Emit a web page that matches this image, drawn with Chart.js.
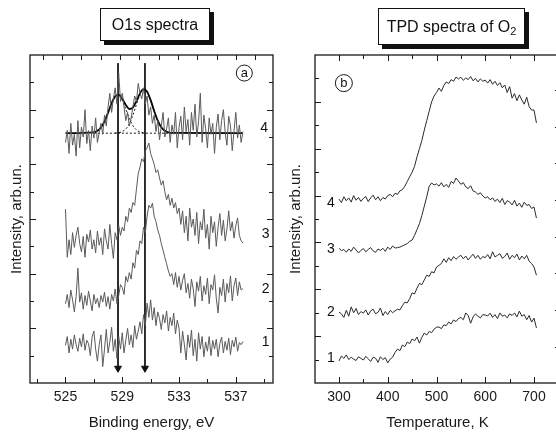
<!DOCTYPE html>
<html><head><meta charset="utf-8">
<script src="https://cdn.jsdelivr.net/npm/chart.js@4.4.1/dist/chart.umd.min.js"></script>
<style>
html,body{margin:0;padding:0;background:#fff;width:556px;height:432px;overflow:hidden;position:relative;font-family:'Liberation Sans',Arial,sans-serif}
canvas{position:absolute;top:0}
#cL{left:0}
#cR{left:278px}
.tbox{position:absolute;box-sizing:border-box;border:1px solid #111;box-shadow:4px 4px 0 #111;background:#fff;font-size:16px;color:#111;display:flex;align-items:center;justify-content:center;white-space:nowrap}
</style></head><body>
<canvas id="cL" width="278" height="432" style="width:278px;height:432px"></canvas>
<canvas id="cR" width="290" height="432" style="width:290px;height:432px"></canvas>
<div class="tbox" style="left:100px;top:8px;width:110px;height:33px">O1s spectra</div>
<div class="tbox" style="left:378px;top:8px;width:147px;height:37px">TPD spectra of O<sub style="font-size:11px;position:relative;top:4px;vertical-align:baseline">2</sub></div>
<script>
// ---------- Panel (a): O1s XPS spectra ----------
const xpsStart = 525, xpsStep = 0.125;
const xpsSpectrum1 = [0.69,0.85,0.55,0.80,0.62,0.88,0.70,0.58,0.82,0.66,0.90,0.60,0.78,0.72,0.50,0.84,0.95,0.62,0.40,0.70,0.88,
  0.30,0.62,0.98,0.55,0.75,1.02,0.58,0.80,
  0.45,0.85,0.62,0.92,0.55,0.78,1.00,0.70,
  0.88,0.65,1.05,0.80,0.95,1.12,0.90,
  1.25,1.05,1.46,1.20,1.52,
  1.15,1.38,1.05,1.30,1.18,0.98,1.25,1.10,1.32,0.95,1.20,1.05,1.28,0.90,1.15,1.00,
  0.55,0.95,0.70,0.42,0.88,0.65,0.97,0.50,0.80,0.40,0.92,0.62,0.85,0.48,0.75,0.58,
  0.85,0.50,0.78,0.62,0.80,0.48,0.72,0.84,0.55,0.76,0.60,0.82,0.52,0.78,0.66,0.84,0.58,0.74,0.70,0.76];
const xpsSpectrum2 = [1.45,1.62,1.38,1.70,1.52,1.30,1.58,2.10,1.48,1.65,1.35,1.60,1.42,1.68,1.50,1.32,1.62,1.45,1.55,1.38,1.60,
  1.48,1.66,1.40,1.58,1.35,1.62,1.50,1.72,1.45,1.60,1.80,1.75,
  1.62,1.95,1.85,2.02,1.90,2.20,2.10,2.43,2.35,2.60,2.55,2.85,2.75,3.05,3.25,3.20,
  3.29,3.05,2.95,2.80,2.70,2.55,2.43,2.30,2.18,2.05,1.95,2.00,
  1.80,2.02,1.75,1.95,1.70,1.88,2.00,1.65,1.82,1.55,1.90,1.72,1.40,1.85,1.68,1.95,1.50,1.78,1.62,1.92,
  1.45,1.80,1.70,1.98,1.55,1.28,1.75,1.60,1.90,1.48,1.82,1.65,1.96,1.50,1.78,1.92,1.60,1.85,1.70,1.73];
const xpsSpectrum3 = [3.18,2.30,2.62,2.35,2.75,2.48,2.70,2.85,2.55,2.40,2.68,2.30,2.72,2.58,2.80,2.45,2.62,2.38,2.78,2.52,2.66,
  2.35,2.82,2.60,2.45,2.90,2.55,2.28,2.75,2.62,2.88,2.70,2.85,
  2.78,3.05,2.95,3.20,3.12,3.30,3.25,3.55,3.83,3.95,4.10,4.05,4.25,4.30,4.39,4.20,
  4.10,4.00,3.85,3.90,3.75,3.62,3.70,3.50,3.35,3.45,3.25,3.38,3.20,3.30,3.10,3.20,
  2.90,3.15,2.75,3.05,2.60,3.20,2.85,3.00,2.70,3.12,2.55,2.95,2.80,3.18,2.65,2.90,2.45,3.05,
  2.75,2.95,2.50,2.85,3.10,2.70,2.98,2.60,2.82,3.15,2.78,2.95,2.65,2.88,3.02,2.70,2.60,2.56];
const xpsSpectrum4 = [4.40,4.62,4.20,4.75,4.35,4.55,4.15,4.80,4.30,4.68,4.50,5.00,4.38,4.62,4.25,4.70,4.48,4.85,4.40,4.58,4.75,
  4.55,4.90,4.70,5.05,5.30,4.95,5.20,5.40,5.10,5.67,5.15,5.30,
  5.05,4.80,4.95,4.70,4.85,5.05,5.25,5.15,5.48,5.30,5.20,5.40,5.10,5.25,4.90,5.05,
  4.75,4.90,4.60,4.80,4.45,4.70,4.95,4.50,4.65,4.85,4.40,4.72,4.55,4.95,4.30,4.68,
  4.88,4.45,5.05,4.60,4.82,4.35,4.95,4.62,5.10,4.50,4.78,5.30,4.40,4.90,4.65,4.30,4.85,4.55,
  4.75,4.20,4.68,4.92,4.45,4.80,5.00,4.58,4.35,4.88,4.70,4.25,4.62,4.95,4.48,4.72,4.40,4.60];
const xpsFitEnergy = [525,527,527.25,527.5,527.75,528,528.25,528.5,528.75,529,529.25,529.5,529.75,530,530.25,530.5,530.75,531,531.25,531.5,531.75,532,532.25,532.5,537.5];
const xpsFitTotal  = [4.57,4.585,4.613,4.675,4.786,4.945,5.119,5.244,5.275,5.200,5.086,5.012,5.038,5.156,5.298,5.374,5.329,5.174,4.975,4.799,4.678,4.613,4.585,4.574,4.57];
const xpsPeak1Energy = [527,527.25,527.5,527.75,528,528.25,528.5,528.75,529,529.25,529.5,529.75,530,530.25,530.5];
const xpsPeak1 = [4.585,4.613,4.675,4.786,4.945,5.118,5.242,5.266,5.172,5.009,4.839,4.709,4.630,4.592,4.577];
const xpsPeak2Energy = [528.5,528.75,529,529.25,529.5,529.75,530,530.25,530.5,530.75,531,531.25,531.5,531.75,532,532.25,532.5];
const xpsPeak2 = [4.572,4.579,4.598,4.647,4.743,4.899,5.096,5.276,5.367,5.327,5.174,4.975,4.799,4.678,4.613,4.585,4.574];
const xpsBaselineEnergy = [527, 532.5];
const xpsBaseline = [4.57, 4.57];
const xpsMarkerEnergy = [528.7, 530.6];
const xpsMarkerSpan = [5.85, 0.27];
const xpsTickLabels = [525, 529, 533, 537];

// ---------- Panel (b): TPD spectra of O2 ----------
const tpdStart = 300, tpdStep = 5;
const tpdCurve1 = [0.94,1.15,1.05,1.20,1.00,1.10,1.02,0.96,1.12,1.05,0.98,1.14,1.03,0.92,1.10,1.06,0.88,1.12,1.00,1.08,0.86,1.02,1.10,
  1.30,1.45,1.38,1.62,1.55,1.75,1.68,1.88,1.80,1.96,1.70,1.95,2.13,2.05,2.20,2.15,2.30,2.38,
  2.39,2.32,2.48,2.45,2.60,2.52,2.69,2.62,2.75,2.80,2.70,2.99,2.88,2.55,2.82,2.95,2.85,2.78,2.92,2.90,
  2.86,2.98,2.80,2.92,2.75,2.99,2.85,2.90,2.78,2.95,2.88,2.99,2.82,3.07,2.85,2.92,2.70,2.88,2.60,2.77,2.35];
const tpdCurve2 = [3.03,2.95,2.80,3.10,2.85,3.25,3.00,3.18,2.92,3.05,2.98,3.12,2.90,3.08,3.15,2.95,3.02,3.20,2.88,3.05,2.92,3.10,3.00,3.08,
  3.15,3.12,3.30,3.45,3.42,3.60,3.85,3.80,4.05,4.25,4.20,4.40,4.60,4.55,4.75,4.70,4.95,
  5.02,5.10,5.30,5.15,5.35,5.22,5.40,5.28,5.38,5.45,5.30,5.42,5.25,5.38,5.50,5.32,5.45,5.28,5.40,5.35,
  5.48,5.30,5.60,5.38,5.45,5.52,5.32,5.40,5.55,5.28,5.45,5.35,5.50,5.25,5.42,5.30,5.45,5.20,5.10,4.95,4.60];
const tpdCurve3 = [5.75,5.65,5.70,5.58,5.72,5.62,5.80,5.68,5.55,5.66,5.74,5.60,5.70,5.78,5.64,5.58,5.72,5.66,5.75,5.62,5.80,5.70,5.85,5.76,5.78,
  5.80,5.85,5.90,5.95,6.05,6.10,6.30,6.55,6.80,7.15,7.55,7.95,8.40,8.54,8.45,8.50,
  8.40,8.55,8.37,8.48,8.35,8.60,8.52,8.75,8.62,8.48,8.55,8.37,8.30,8.42,8.20,8.15,8.05,8.12,7.98,7.90,
  7.95,7.82,7.90,7.75,7.85,7.70,7.88,7.62,7.78,7.73,7.60,7.80,7.55,7.68,7.50,7.72,7.58,7.62,7.45,7.51,7.04];
const tpdCurve4 = [7.85,7.70,7.95,7.78,7.90,7.72,8.00,7.80,7.92,7.75,7.88,7.96,7.74,7.90,8.02,7.82,7.95,7.78,7.92,7.85,8.00,8.05,7.95,8.10,8.05,8.20,
  8.25,8.40,8.60,8.80,9.00,9.25,9.65,10.00,10.35,10.80,11.20,11.60,12.00,12.25,12.40,
  12.59,12.45,12.70,12.85,12.78,12.95,12.88,13.06,12.98,13.05,12.92,13.02,12.95,13.08,12.90,13.00,12.85,12.98,12.88,12.93,
  12.80,12.95,12.75,12.88,12.70,12.82,12.60,12.72,12.40,12.65,12.16,12.35,12.05,12.30,12.08,11.90,12.20,11.80,11.65,11.65,11.10];
const tpdTickLabels = [300, 400, 500, 600, 700];
const tpdRightAxisTicks = [1.55, 3.12, 4.69, 6.25, 7.81, 9.38, 10.94, 12.5];
const curveNames = ['1', '2', '3', '4'];

// ---------- helpers ----------
const FONT = "'Liberation Sans', Arial, sans-serif";
const xpsPts = arr => arr.map((y, i) => ({x: xpsStart + i * xpsStep, y}));
const tpdPts = arr => arr.map((y, i) => ({x: tpdStart + i * tpdStep, y}));
const pairPts = (xs, ys) => xs.map((x, i) => ({x, y: ys[i]}));
function range(a, b, s) { const r = []; for (let v = a; v <= b + 1e-9; v += s) r.push(+v.toFixed(4)); return r; }

const decor = {
  id: 'decor',
  afterDatasetsDraw(chart, args, o) {
    const {ctx, chartArea: a, scales: {x, y}} = chart;
    ctx.save();
    ctx.strokeStyle = '#1a1a1a';
    ctx.lineWidth = 1.3;
    ctx.strokeRect(a.left, a.top, a.right - a.left, a.bottom - a.top);
    ctx.lineWidth = 1;
    ctx.beginPath();
    for (const t of o.bottom) { const p = Math.round(x.getPixelForValue(t.v)) + 0.5; ctx.moveTo(p, a.bottom); ctx.lineTo(p, a.bottom - t.l); }
    for (const t of o.top) { const p = Math.round(x.getPixelForValue(t.v)) + 0.5; ctx.moveTo(p, a.top); ctx.lineTo(p, a.top + t.l); }
    for (const t of o.left) { const p = Math.round(y.getPixelForValue(t.v)) + 0.5; ctx.moveTo(a.left, p); ctx.lineTo(a.left + t.l, p); }
    for (const t of o.right) { const p = Math.round(y.getPixelForValue(t.v)) + 0.5; ctx.moveTo(a.right, p); ctx.lineTo(a.right - t.l, p); }
    ctx.stroke();
    ctx.fillStyle = '#111';
    ctx.font = '14px ' + FONT;
    ctx.textAlign = 'center';
    ctx.textBaseline = 'middle';
    for (const lb of o.labels) ctx.fillText(lb.t, x.getPixelForValue(lb.x), y.getPixelForValue(lb.y));
    const c = o.circle;
    const cx = x.getPixelForValue(c.x), cy = y.getPixelForValue(c.y);
    ctx.beginPath(); ctx.arc(cx, cy, c.r, 0, Math.PI * 2); ctx.lineWidth = 1; ctx.stroke();
    ctx.font = '13px ' + FONT;
    ctx.fillText(c.t, cx, cy);
    ctx.restore();
  }
};

// ---------- chart (a) ----------
const xpsGray = '#5a5a5a';
const lineDs = (data, color, width, extra) => Object.assign({data, borderColor: color, borderWidth: width, pointRadius: 0, fill: false, tension: 0}, extra || {});
const markerDs = e => lineDs(pairPts([e, e], xpsMarkerSpan), '#111', 1, {
  pointRadius: [0, 4], pointStyle: 'triangle', rotation: [0, 180], pointBackgroundColor: '#111', pointBorderColor: '#111', clip: false
});

new Chart(document.getElementById('cL'), {
  type: 'line',
  data: {datasets: [
    lineDs(xpsPts(xpsSpectrum1), xpsGray, 1),
    lineDs(xpsPts(xpsSpectrum2), xpsGray, 1),
    lineDs(xpsPts(xpsSpectrum3), xpsGray, 1),
    lineDs(xpsPts(xpsSpectrum4), xpsGray, 1),
    lineDs(pairPts(xpsBaselineEnergy, xpsBaseline), '#111', 1, {borderDash: [2, 2]}),
    lineDs(pairPts(xpsPeak1Energy, xpsPeak1), '#111', 1, {borderDash: [2, 2], cubicInterpolationMode: 'monotone'}),
    lineDs(pairPts(xpsPeak2Energy, xpsPeak2), '#111', 1, {borderDash: [2, 2], cubicInterpolationMode: 'monotone'}),
    lineDs(pairPts(xpsFitEnergy, xpsFitTotal), '#000', 1.8, {cubicInterpolationMode: 'monotone'}),
    markerDs(xpsMarkerEnergy[0]),
    markerDs(xpsMarkerEnergy[1])
  ]},
  options: {
    responsive: false, animation: false, devicePixelRatio: 1,
    parsing: true,
    layout: {padding: {left: 0, top: 55, right: 4, bottom: 0}},
    plugins: {
      legend: {display: false}, tooltip: {enabled: false},
      decor: {
        bottom: range(523, 539, 1).map(v => ({v, l: (v - 525) % 4 === 0 ? 6 : ((v - 525) % 2 === 0 ? 4 : 0)})).filter(t => t.l > 0),
        top: range(523.4, 539.4, 1.36).map(v => ({v, l: 5})),
        left: range(0.5, 5.5, 0.5).map(v => ({v, l: v % 1 === 0 ? 6 : 4})),
        right: range(0.5, 5.5, 0.5).map(v => ({v, l: v % 1 === 0 ? 6 : 4})),
        labels: [{t: curveNames[3], x: 539.0, y: 4.66}, {t: curveNames[2], x: 539.1, y: 2.72}, {t: curveNames[1], x: 539.1, y: 1.72}, {t: curveNames[0], x: 539.1, y: 0.75}],
        circle: {t: 'a', x: 537.6, y: 5.67, r: 8}
      }
    },
    scales: {
      x: {
        type: 'linear', min: 522.5, max: 539.62,
        grid: {display: false, drawTicks: false}, border: {display: false},
        afterBuildTicks: s => { s.ticks = xpsTickLabels.map(v => ({value: v})); },
        afterFit: s => { s.height = 49; },
        ticks: {color: '#1a1a1a', font: {family: FONT, size: 14}, padding: 6, maxRotation: 0, autoSkip: false},
        title: {display: true, text: 'Binding energy, eV', color: '#1a1a1a', font: {family: FONT, size: 15}, padding: {top: 0, bottom: 0}}
      },
      y: {
        type: 'linear', min: 0, max: 6,
        grid: {display: false, drawTicks: false}, border: {display: false},
        ticks: {display: false},
        afterFit: s => { s.width = 30; },
        title: {display: true, text: 'Intensity, arb.un.', color: '#1a1a1a', font: {family: FONT, size: 15}, padding: {top: 8, bottom: 0}}
      }
    }
  },
  plugins: [decor]
});

// ---------- chart (b) ----------
const tpdColor = '#2a2a2a';
new Chart(document.getElementById('cR'), {
  type: 'line',
  data: {datasets: [
    lineDs(tpdPts(tpdCurve1), tpdColor, 1),
    lineDs(tpdPts(tpdCurve2), tpdColor, 1),
    lineDs(tpdPts(tpdCurve3), tpdColor, 1),
    lineDs(tpdPts(tpdCurve4), tpdColor, 1)
  ]},
  options: {
    responsive: false, animation: false, devicePixelRatio: 1,
    layout: {padding: {left: 0, top: 55, right: 8, bottom: 0}},
    plugins: {
      legend: {display: false}, tooltip: {enabled: false},
      decor: {
        bottom: range(300, 750, 50).map(v => ({v, l: v % 100 === 0 ? 6 : 4})),
        top: range(300, 750, 50).map(v => ({v, l: v % 100 === 0 ? 6 : 4})),
        left: range(1, 13, 1).map(v => ({v, l: v % 2 === 0 ? 6 : 4})),
        right: tpdRightAxisTicks.map(v => ({v, l: 5})),
        labels: [{t: curveNames[3], x: 283.6, y: 7.68}, {t: curveNames[2], x: 283.6, y: 5.72}, {t: curveNames[1], x: 283.6, y: 3.03}, {t: curveNames[0], x: 283.6, y: 1.07}],
        circle: {t: 'b', x: 310, y: 12.8, r: 8.5}
      }
    },
    scales: {
      x: {
        type: 'linear', min: 250.8, max: 753.3,
        grid: {display: false, drawTicks: false}, border: {display: false},
        afterBuildTicks: s => { s.ticks = tpdTickLabels.map(v => ({value: v})); },
        afterFit: s => { s.height = 49; },
        ticks: {color: '#1a1a1a', font: {family: FONT, size: 14}, padding: 6, maxRotation: 0, autoSkip: false},
        title: {display: true, text: 'Temperature, K', color: '#1a1a1a', font: {family: FONT, size: 15}, padding: {top: 0, bottom: 0}}
      },
      y: {
        type: 'linear', min: 0, max: 14,
        grid: {display: false, drawTicks: false}, border: {display: false},
        ticks: {display: false},
        afterFit: s => { s.width = 37; },
        title: {display: true, text: 'Intensity, arb.un.', color: '#1a1a1a', font: {family: FONT, size: 15}, padding: {top: 9, bottom: 0}}
      }
    }
  },
  plugins: [decor]
});
</script>
</body></html>
